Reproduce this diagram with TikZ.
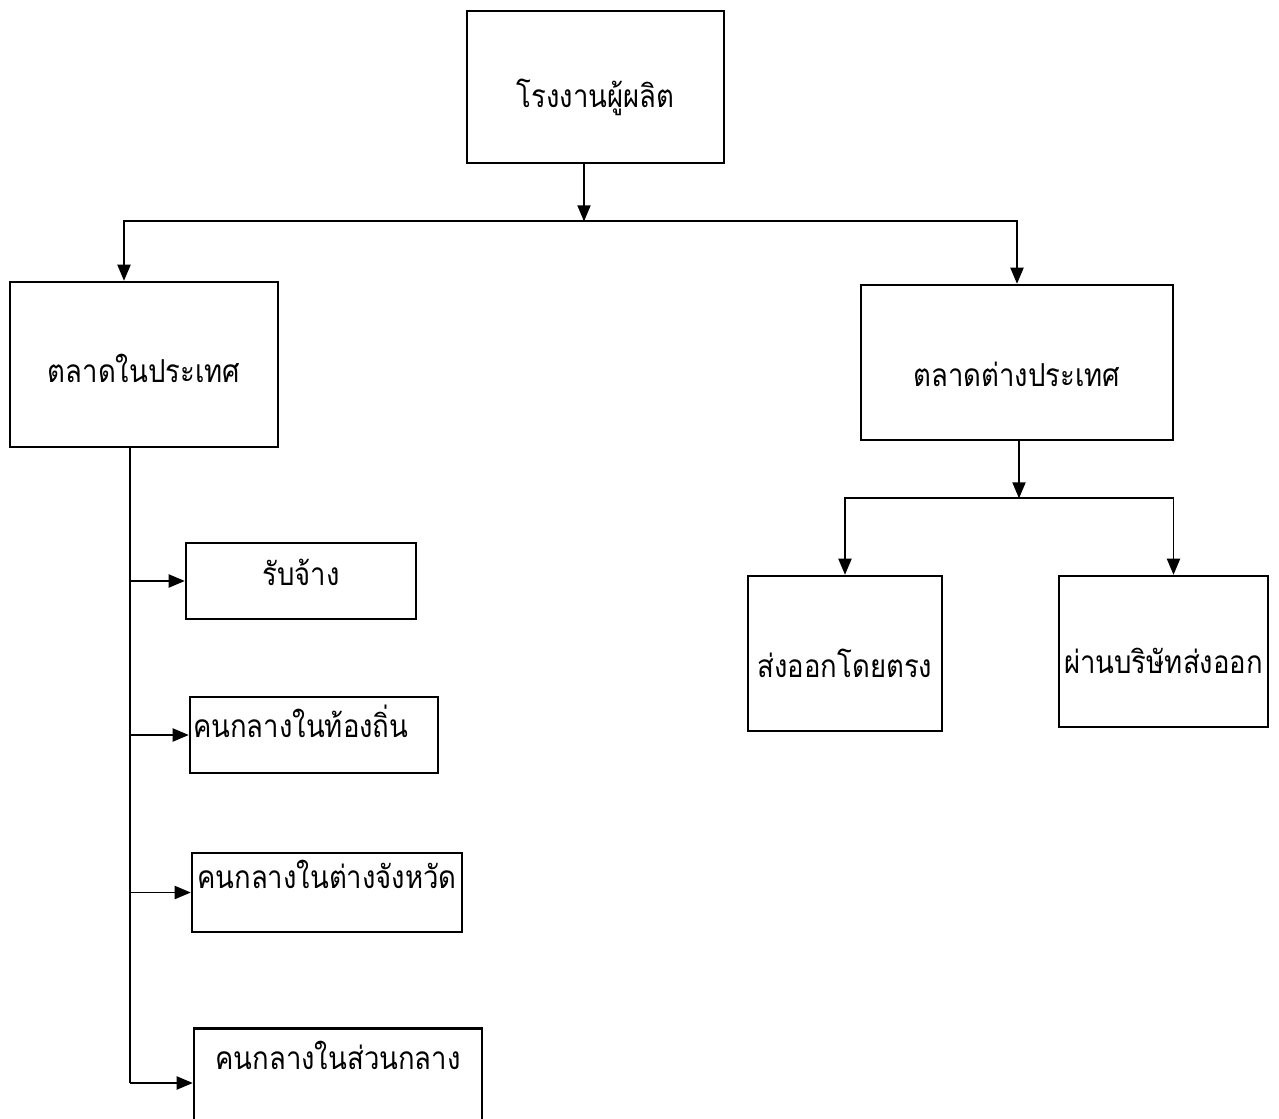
\documentclass[tikz,border=0pt]{standalone}
\usepackage{fontspec}
\newfontfamily\thaifont[Script=Thai, FakeStretch=0.87]{Loma}
\usetikzlibrary{positioning,arrows,calc}

\begin{document}
\begin{tikzpicture}[x=0.02cm, y=-0.02cm, font=\thaifont\fontsize{18}{22}\selectfont,
  box/.style={draw, line width=1.5pt, inner sep=0pt},
  link/.style={line width=1.1pt},
  arr/.style={link, -triangle 45}]

  \useasboundingbox (0,0) rectangle (1279,1119);

  % Producer and the two markets
  \node (plant) [box, minimum width=5.14cm, minimum height=3.04cm, text height=0.84cm, text depth=0pt] at (595.5,87) {โรงงานผู้ผลิต};
  \node (home) [box, minimum width=5.36cm, minimum height=3.3cm, text height=0.74cm, text depth=0pt] at (144,364.5) {ตลาดในประเทศ};
  \node (abroad) [box, minimum width=6.24cm, minimum height=3.1cm, text height=0.98cm, text depth=0pt] at (1017,362.5) {ตลาดต่างประเทศ};

  % Domestic channels
  \node (hire) [box, minimum width=4.6cm, minimum height=1.52cm, text height=0.16cm, text depth=0pt] at (301,581) {รับจ้าง};
  \node (local) [box, minimum width=4.96cm, minimum height=1.52cm, text width=4.84cm, align=left, text height=0.08cm, text depth=0pt] at (314,735) {คนกลางในท้องถิ่น};
  \node (prov) [box, minimum width=5.4cm, minimum height=1.58cm, text height=0pt, text depth=0.18cm] at (327,892.5) {คนกลางในต่างจังหวัด};
  \node (central) [box, minimum width=5.76cm, text height=0.82cm, text depth=1.14cm, anchor=north] at (338,1027) {คนกลางในส่วนกลาง};

  % Export channels
  \node (direct) [box, minimum width=3.88cm, minimum height=3.1cm, text height=0.94cm, text depth=0pt] at (845,653.5) {ส่งออกโดยตรง};
  \node (agent) [box, minimum width=4.18cm, minimum height=3.02cm, text height=0.86cm, text depth=0pt] at (1163.5,651.5) {ผ่านบริษัทส่งออก};

  % Split points
  \coordinate (split) at ($(plant.south)+(-0.23cm,-1.14cm)$);
  \coordinate (split2) at ($(abroad.south)+(0.04cm,-1.14cm)$);
  \coordinate (trunk) at ([xshift=-0.28cm]home.south);
  \coordinate (last) at ([yshift=-1.12cm]central.north west);

  % Connectors from the producer
  \draw[arr] (plant.south -| split) -- (split);
  \draw[arr] (split) -| ([xshift=-0.4cm]home.north);
  \draw[arr] (split) -| (abroad.north);

  % Connectors of the export side
  \draw[arr] (abroad.south -| split2) -- (split2);
  \draw[arr] (split2) -| (direct.north);
  \draw[arr] (split2) -| ([xshift=0.2cm]agent.north);

  % Trunk of the domestic side
  \draw[link] (trunk) -- (trunk |- last);
  \draw[arr] (trunk |- hire.west) -- (hire.west);
  \draw[arr] (trunk |- local.west) -- (local.west);
  \draw[arr] (trunk |- prov.west) -- (prov.west);
  \draw[arr] (trunk |- last) -- (last);

\end{tikzpicture}
\end{document}
